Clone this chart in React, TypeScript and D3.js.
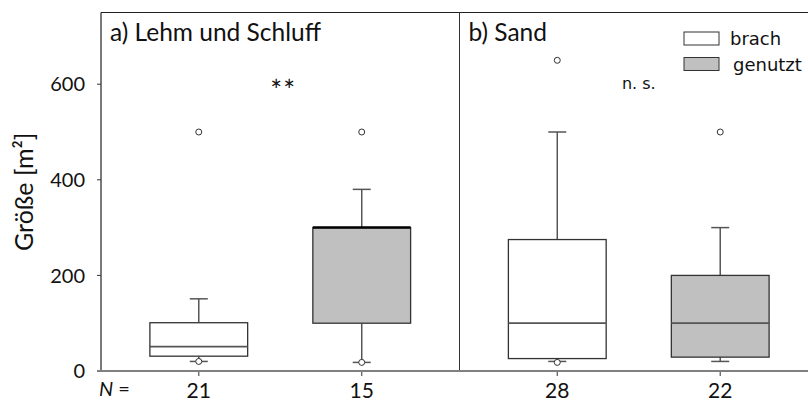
import React from "react";
import * as d3 from "d3";

const panels = ["a) Lehm und Schluff", "b) Sand"];
const types = ["brach", "genutzt"];
const groupPanel = [0, 0, 1, 1];
const groupType = [0, 1, 0, 1];
const nValues = [21, 15, 28, 22];
const whiskerLow = [20, 18, 20, 20];
const q1 = [31, 100, 26, 29];
const median = [51, 300, 100, 100];
const q3 = [101, 300, 275, 200];
const whiskerHigh = [151, 380, 500, 300];
const outliers = [[20, 500], [18, 500], [18, 650], [500]];
const yTicks = [0, 200, 400, 600];
const significance = ["**", "n. s."];
const fills = ["#ffffff", "#c0c0c0"];

const W = 808;
const H = 401;
const left = 101;
const right = 818;
const top = 12.5;
const bottom = 371;

export default function App() {
  const y = d3.scaleLinear().domain([0, 750]).range([bottom, top]);
  const xPanel = d3.scaleBand<number>().domain([0, 1]).range([left, right]);
  const xType = d3
    .scaleBand<number>()
    .domain([0, 1])
    .range([0, xPanel.bandwidth()])
    .paddingInner(0.2)
    .paddingOuter(0.2);
  const cx = (i: number) =>
    (xPanel(groupPanel[i]) as number) + (xType(groupType[i]) as number) + xType.bandwidth() / 2;
  const boxW = xType.bandwidth() * 0.75;
  const capW = 18;
  const mainFont = "Lato, 'Open Sans', sans-serif";
  const dvFont = "'DejaVu Sans', sans-serif";

  return (
    <svg width={W} height={H} style={{ position: "absolute", left: 0, top: 0, background: "#fff" }}>
      {/* frame */}
      <line x1={left} x2={W} y1={top} y2={top} stroke="#222" strokeWidth={1.2} />
      <line x1={left} x2={left} y1={top} y2={bottom} stroke="#222" strokeWidth={1.2} />
      <line
        x1={xPanel(1) as number}
        x2={xPanel(1) as number}
        y1={top}
        y2={bottom}
        stroke="#333"
        strokeWidth={1}
      />
      {/* y ticks */}
      {yTicks.map((t) => (
        <g key={t}>
          <line x1={left - 4} x2={left} y1={y(t)} y2={y(t)} stroke="#333" strokeWidth={1} />
          <text
            x={left - 16}
            y={y(t)}
            dy="0.36em"
            textAnchor="end"
            fontFamily={mainFont}
            fontSize={20}
            fill="#111"
          >
            {t}
          </text>
        </g>
      ))}
      {/* y label */}
      <text
        transform={`translate(33,${(top + bottom) / 2}) rotate(-90)`}
        textAnchor="middle"
        fontFamily={mainFont}
        fontSize={25}
        fill="#111"
      >
        Größe [m²]
      </text>
      {/* panel titles */}
      {panels.map((p, i) => (
        <text
          key={p}
          x={(xPanel(i) as number) + 9}
          y={41}
          fontFamily={mainFont}
          fontSize={24.5}
          fill="#111"
        >
          {p}
        </text>
      ))}
      {/* significance */}
      <text
        x={(xPanel(0) as number) + xPanel.bandwidth() / 2 + 3}
        y={101}
        textAnchor="middle"
        fontFamily={mainFont}
        fontSize={28}
        letterSpacing={1}
        fill="#111"
      >
        {significance[0]}
      </text>
      <text
        x={(xPanel(1) as number) + xPanel.bandwidth() / 2}
        y={89}
        textAnchor="middle"
        fontFamily={dvFont}
        fontSize={16}
        fill="#111"
      >
        {significance[1]}
      </text>
      {/* boxes */}
      {nValues.map((n, i) => {
        const c = cx(i);
        return (
          <g key={i}>
            <line x1={c} x2={c} y1={y(q3[i])} y2={y(whiskerHigh[i])} stroke="#555" strokeWidth={1.5} />
            <line x1={c} x2={c} y1={y(q1[i])} y2={y(whiskerLow[i])} stroke="#555" strokeWidth={1.5} />
            <line
              x1={c - capW / 2}
              x2={c + capW / 2}
              y1={y(whiskerHigh[i])}
              y2={y(whiskerHigh[i])}
              stroke="#555"
              strokeWidth={1.5}
            />
            <line
              x1={c - capW / 2}
              x2={c + capW / 2}
              y1={y(whiskerLow[i])}
              y2={y(whiskerLow[i])}
              stroke="#555"
              strokeWidth={1.5}
            />
            <rect
              x={c - boxW / 2}
              y={y(q3[i])}
              width={boxW}
              height={y(q1[i]) - y(q3[i])}
              fill={fills[groupType[i]]}
              stroke="#333"
              strokeWidth={1.3}
            />
            <line
              x1={c - boxW / 2}
              x2={c + boxW / 2}
              y1={y(median[i])}
              y2={y(median[i])}
              stroke={median[i] === q3[i] ? "#000" : "#555"}
              strokeWidth={median[i] === q3[i] ? 2.5 : 1.8}
            />
            {outliers[i].map((o, k) => (
              <circle key={k} cx={c} cy={y(o)} r={3} fill="#fff" stroke="#333" strokeWidth={1} />
            ))}
            <line x1={c} x2={c} y1={bottom} y2={bottom + 5} stroke="#555" strokeWidth={1.2} />
            <text
              x={c}
              y={398}
              textAnchor="middle"
              fontFamily={mainFont}
              fontSize={21}
              fill="#111"
            >
              {n}
            </text>
          </g>
        );
      })}
      {/* x axis */}
      <line x1={left - 4} x2={W} y1={bottom} y2={bottom} stroke="#808080" strokeWidth={2} />
      <text x={99} y={396} fontFamily={mainFont} fontSize={20} fill="#111">
        <tspan fontStyle="italic">N</tspan>
        <tspan> =</tspan>
      </text>
      {/* legend */}
      {types.map((t, i) => (
        <g key={t}>
          <rect
            x={684}
            y={32 + i * 25.5}
            width={35}
            height={13}
            fill={fills[i]}
            stroke="#333"
            strokeWidth={1}
          />
          <text
            x={730 + i * 3}
            y={45 + i * 25.5}
            fontFamily={dvFont}
            fontSize={18}
            fill="#111"
          >
            {t}
          </text>
        </g>
      ))}
    </svg>
  );
}
